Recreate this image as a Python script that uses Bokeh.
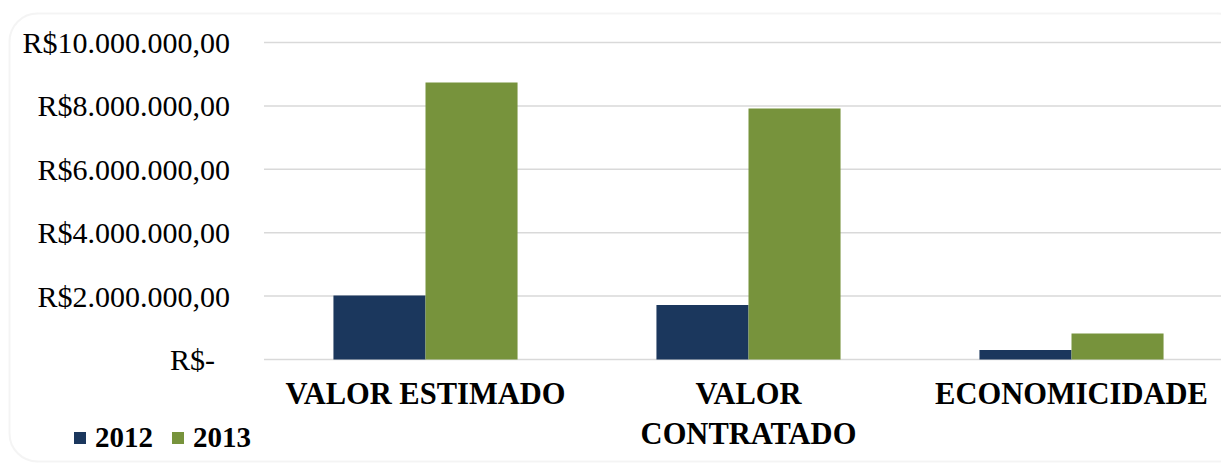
from bokeh.plotting import figure
from bokeh.models import (Range1d, FixedTicker, BoxAnnotation, Legend, LegendItem,
                          ColumnDataSource)
from bokeh.transform import dodge
from bokeh.embed import file_html
from bokeh.resources import INLINE

categories = ["VALOR ESTIMADO", "VALOR\nCONTRATADO", "ECONOMICIDADE"]
series = ["2012", "2013"]
values_2012 = [2020000, 1720000, 300000]
values_2013 = [8740000, 7920000, 820000]
y_ticks = [0, 2000000, 4000000, 6000000, 8000000, 10000000]
y_tick_labels = ["R$-\u00a0\u00a0", "R$2.000.000,00", "R$4.000.000,00",
                 "R$6.000.000,00", "R$8.000.000,00", "R$10.000.000,00"]

BLUE = "#1b375d"
GREEN = "#77933c"
GRID = "#d9d9d9"
FONT = "Liberation Serif"

W, H = 1221, 465
# pixel geometry (canvas = frame)
X0_PX, UNIT_PX = 425.0, 323.0      # centre of first category, category spacing
Y0_PX, MPX = 359.0, 31.7 / 1e6     # baseline pixel, pixels per R$

xs = list(range(len(categories)))
source = ColumnDataSource(dict(x=xs, v2012=values_2012, v2013=values_2013))
grid_src = ColumnDataSource(dict(y=y_ticks))

x_start = -X0_PX / UNIT_PX
x_end = (W - X0_PX) / UNIT_PX
y_start = -(H - Y0_PX) / MPX
y_end = Y0_PX / MPX

p = figure(width=W, height=H, output_backend="svg", toolbar_location=None,
           x_range=Range1d(x_start, x_end), y_range=Range1d(y_start, y_end),
           min_border=0, min_border_left=0, min_border_right=0,
           min_border_top=0, min_border_bottom=0)

p.outline_line_color = None
p.background_fill_color = "white"
p.border_fill_color = "white"
p.xgrid.visible = False
p.ygrid.visible = False

# horizontal gridlines at the y ticks, spanning the plotting area only
p.segment(x0=-0.5, x1=x_end + 1, y0="y", y1="y", source=grid_src,
          line_color=GRID, line_width=1.5, level="underlay")

r1 = p.vbar(x=dodge("x", -0.1425), top="v2012", bottom=0, width=0.285,
            source=source, fill_color=BLUE, line_color=None)
r2 = p.vbar(x=dodge("x", 0.1425), top="v2013", bottom=0, width=0.285,
            source=source, fill_color=GREEN, line_color=None)

p.yaxis.fixed_location = -0.5
p.yaxis.ticker = FixedTicker(ticks=y_ticks)
p.yaxis.major_label_overrides = {t: l for t, l in zip(y_ticks, y_tick_labels)}
p.yaxis.axis_line_color = None
p.yaxis.major_tick_line_color = None
p.yaxis.minor_tick_line_color = None
p.yaxis.major_tick_out = 0
p.yaxis.major_tick_in = 0
p.yaxis.major_label_standoff = 34
p.yaxis.major_label_text_font = FONT
p.yaxis.major_label_text_font_size = "30px"
p.yaxis.major_label_text_color = "black"

p.xaxis.fixed_location = 0
p.xaxis.ticker = FixedTicker(ticks=xs)
p.xaxis.major_label_overrides = {x: c for x, c in zip(xs, categories)}
p.xaxis.axis_line_color = None
p.xaxis.major_tick_line_color = None
p.xaxis.minor_tick_line_color = None
p.xaxis.major_tick_out = 0
p.xaxis.major_tick_in = 0
p.xaxis.major_label_standoff = 17
p.xaxis.major_label_text_font = FONT
p.xaxis.major_label_text_font_size = "30.5px"
p.xaxis.major_label_text_font_style = "bold"
p.xaxis.major_label_text_color = "black"

border = BoxAnnotation(left=9, right=1245, top=13, bottom=461,
                       left_units="canvas", right_units="canvas",
                       top_units="canvas", bottom_units="canvas",
                       fill_color=None, fill_alpha=0, line_color=GRID,
                       line_width=2, border_radius=28, level="underlay")
p.add_layout(border)

legend = Legend(items=[LegendItem(label=series[0], renderers=[r1]),
                       LegendItem(label=series[1], renderers=[r2])],
                orientation="horizontal", location=(72, 11),
                glyph_width=15, glyph_height=15, label_standoff=8, spacing=17,
                padding=0, margin=0, border_line_color=None,
                background_fill_alpha=0, label_text_font=FONT,
                label_text_font_style="bold", label_text_font_size="29px",
                label_text_color="black")
p.add_layout(legend)

open("out.html", "w").write(file_html(p, INLINE))
